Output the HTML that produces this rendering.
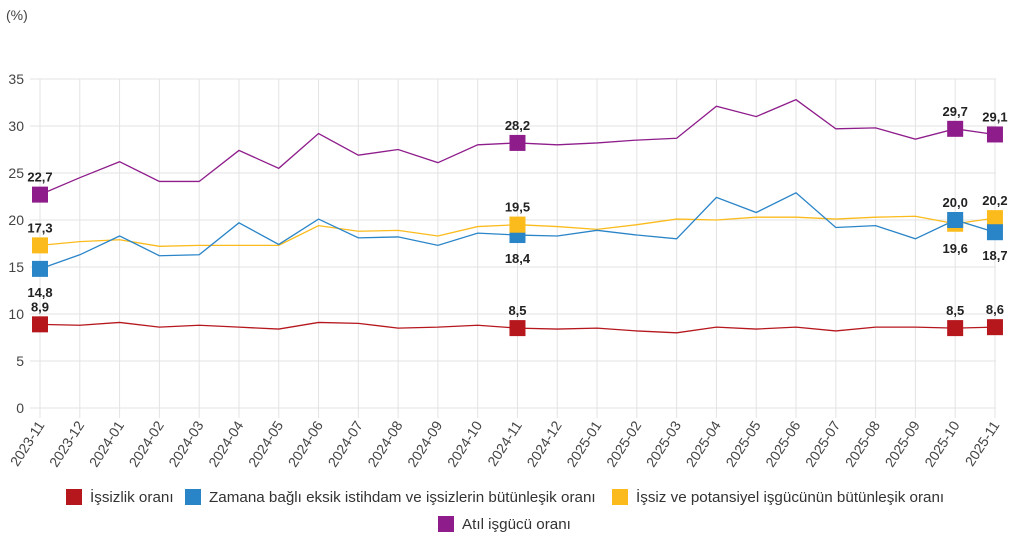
<!DOCTYPE html>
<html><head><meta charset="utf-8"><style>
body{margin:0;background:#fff;width:1024px;height:542px;overflow:hidden;font-family:"Liberation Sans",sans-serif}
</style></head><body>
<svg width="1024" height="542" xmlns="http://www.w3.org/2000/svg" font-family="Liberation Sans, sans-serif">
<text x="6" y="20" font-size="14" fill="#444">(%)</text>
<g id="grid" stroke="#e3e3e3" stroke-width="1"></g>
<g id="ylab" font-size="14" fill="#444" text-anchor="end"></g>
<g id="xlab" font-size="14" fill="#444" text-anchor="end"></g>
<g id="series"></g>
<g id="labels" font-size="13" font-weight="bold" fill="#222" text-anchor="middle"></g>
<g font-size="15.2" fill="#333">
<rect x="66" y="489" width="16" height="16" fill="#b5171d"/><text x="90" y="502">İşsizlik oranı</text>
<rect x="185" y="489" width="16" height="16" fill="#2a85c8"/><text x="209" y="502">Zamana bağlı eksik istihdam ve işsizlerin bütünleşik oranı</text>
<rect x="612" y="489" width="16" height="16" fill="#fbbb1c"/><text x="636" y="502">İşsiz ve potansiyel işgücünün bütünleşik oranı</text>
<rect x="438" y="516" width="16" height="16" fill="#8e1d8b"/><text x="462" y="529">Atıl işgücü oranı</text>
</g>
</svg>
<script>
const ns="http://www.w3.org/2000/svg";
const X=i=>40+i*39.79, Y=v=>408-v*9.4;
function el(p,t,a,txt){const e=document.createElementNS(ns,t);for(const k in a)e.setAttribute(k,a[k]);if(txt!==undefined)e.textContent=txt;document.getElementById(p).appendChild(e);return e;}
const labs=["2023-11","2023-12","2024-01","2024-02","2024-03","2024-04","2024-05","2024-06","2024-07","2024-08","2024-09","2024-10","2024-11","2024-12","2025-01","2025-02","2025-03","2025-04","2025-05","2025-06","2025-07","2025-08","2025-09","2025-10","2025-11"];
for(let v=0;v<=35;v+=5){el("grid","line",{x1:30,x2:996,y1:Y(v),y2:Y(v)});el("ylab","text",{x:24,y:Y(v)+5},v);}
labs.forEach((l,i)=>{el("grid","line",{x1:X(i),x2:X(i),y1:Y(35),y2:418});el("xlab","text",{x:X(i)+5,y:425,transform:`rotate(-57 ${X(i)+5} 425)`},l);});
const S=[
["#b5171d",[8.9,8.8,9.1,8.6,8.8,8.6,8.4,9.1,9.0,8.5,8.6,8.8,8.5,8.4,8.5,8.2,8.0,8.6,8.4,8.6,8.2,8.6,8.6,8.5,8.6]],
["#fbbb1c",[17.3,17.7,17.9,17.2,17.3,17.3,17.3,19.4,18.8,18.9,18.3,19.3,19.5,19.3,19.0,19.5,20.1,20.0,20.3,20.3,20.1,20.3,20.4,19.6,20.2]],
["#2a85c8",[14.8,16.3,18.3,16.2,16.3,19.7,17.4,20.1,18.1,18.2,17.3,18.6,18.4,18.3,18.9,18.4,18.0,22.4,20.8,22.9,19.2,19.4,18.0,20.0,18.7]],
["#8e1d8b",[22.7,24.5,26.2,24.1,24.1,27.4,25.5,29.2,26.9,27.5,26.1,28.0,28.2,28.0,28.2,28.5,28.7,32.1,31.0,32.8,29.7,29.8,28.6,29.7,29.1]]];
const mk=[0,12,23,24];
S.forEach(([c,d])=>el("series","polyline",{points:d.map((v,i)=>X(i)+","+Y(v)).join(" "),fill:"none",stroke:c,"stroke-width":1.3}));
S.forEach(([c,d],si)=>mk.forEach(i=>{ if(si==2&&i==12)return; el("series","rect",{x:X(i)-8,y:Y(d[i])-8,width:16,height:16,fill:c});}));
el("series","rect",{x:X(12)-8,y:Y(18.4)-8,width:16,height:16,fill:"#2a85c8"});
el("series","rect",{x:X(12)-8,y:Y(19.5)-8,width:16,height:16,fill:"#fbbb1c"});
const L=[[0,8.9,-13],[12,8.5,-13],[23,8.5,-13],[24,8.6,-13],
[0,14.8,28],[12,18.4,28],[24,18.7,28],
[0,17.3,-13],[12,19.5,-13],[24,20.2,-13],
[0,22.7,-13],[12,28.2,-13],[23,29.7,-13],[24,29.1,-13]];
L.forEach(([i,v,o])=>el("labels","text",{x:X(i),y:Y(v)+o},v.toFixed(1).replace(".",",")));
el("labels","text",{x:X(23),y:Y(20.0)-13},"20,0");
el("labels","text",{x:X(23),y:Y(19.6)+29},"19,6");
</script>
</body></html>
